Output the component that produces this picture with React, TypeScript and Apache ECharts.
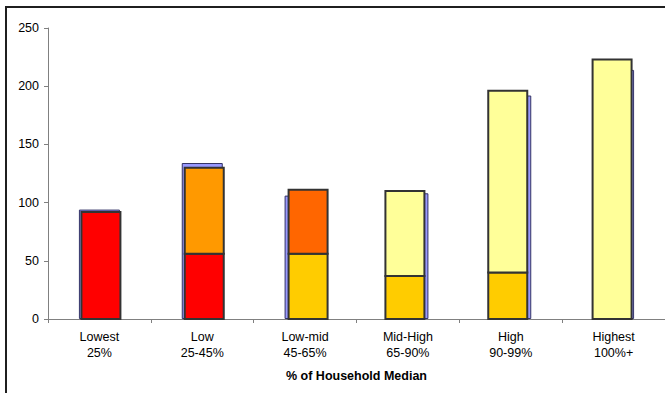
import React, { useEffect, useRef } from 'react';
import * as echarts from 'echarts';

// Income bands along the horizontal axis
const categories = [
  'Lowest\n25%',
  'Low\n25-45%',
  'Low-mid\n45-65%',
  'Mid-High\n65-90%',
  'High\n90-99%',
  'Highest\n100%+',
];
const yTicks = [0, 50, 100, 150, 200, 250];

// Back (blue) bars: overall totals
const totalValues = [94, 134, 106, 108, 192, 214];
// Front stacked bars: lower and upper segments
const lowerValues = [92, 56, 56, 37, 40, 0];
const upperValues = [0, 74, 55, 73, 156, 223];

// Styling
const lowerColors = ['#FF0000', '#FF0000', '#FFCC00', '#FFCC00', '#FFCC00', '#FFCC00'];
const upperColors = ['#FF9900', '#FF9900', '#FF6600', '#FFFF99', '#FFFF99', '#FFFF99'];
const frontShift = [1.5, 2, 3, -3, -3, -1.5];
const FONT = '"Liberation Sans", Arial, sans-serif';

const segmentRenderer = (colors: string[]) => (_params: any, api: any) => {
  const i = api.value(0);
  const lo = api.value(1);
  const hi = api.value(2);
  const base = api.coord([i, lo]);
  const top = api.coord([i, hi]);
  const w = 39;
  return {
    type: 'rect',
    shape: {
      x: base[0] - w / 2 + frontShift[i],
      y: top[1],
      width: w,
      height: base[1] - top[1],
    },
    style: { fill: colors[i], stroke: '#333333', lineWidth: 2 },
  };
};

export default function App() {
  const ref = useRef<HTMLDivElement>(null);

  useEffect(() => {
    if (!ref.current) return;
    const chart = echarts.init(ref.current, undefined, { renderer: 'svg' });

    const lowerData = lowerValues
      .map((v, i) => [i, 0, v])
      .filter((d) => d[2] > d[1]);
    const upperData = upperValues
      .map((v, i) => [i, lowerValues[i], lowerValues[i] + v])
      .filter((d) => d[2] > d[1]);

    chart.setOption({
      animation: false,
      backgroundColor: '#ffffff',
      textStyle: { fontFamily: FONT },
      grid: { left: 48, right: -1, top: 28, bottom: 74, containLabel: false },
      graphic: [
        {
          // chart-area frame: only its top and left edges fall inside the view
          type: 'polyline',
          shape: { points: [[6, 400], [6, 7], [670, 7]] },
          style: { fill: 'none', stroke: '#1f1f1f', lineWidth: 2 },
          z: 100,
          silent: true,
        },
      ],
      xAxis: {
        type: 'category',
        data: categories,
        boundaryGap: true,
        name: '% of Household Median',
        nameLocation: 'middle',
        nameGap: 50,
        nameTextStyle: {
          fontFamily: FONT,
          fontSize: 12.5,
          fontWeight: 'bold',
          color: '#000',
        },
        axisLine: { show: true, lineStyle: { color: '#808080', width: 1 } },
        axisTick: { show: true, length: 4, lineStyle: { color: '#808080' } },
        axisLabel: {
          interval: 0,
          color: '#000',
          fontFamily: FONT,
          fontSize: 12.5,
          lineHeight: 16,
          margin: 10,
        },
        splitLine: { show: false },
      },
      yAxis: {
        type: 'value',
        min: yTicks[0],
        max: yTicks[yTicks.length - 1],
        interval: yTicks[1] - yTicks[0],
        axisLine: { show: true, lineStyle: { color: '#808080', width: 1 } },
        axisTick: { show: true, length: 4, lineStyle: { color: '#808080' } },
        axisLabel: { color: '#000', fontFamily: FONT, fontSize: 12.5, margin: 9 },
        splitLine: { show: false },
      },
      series: [
        {
          name: 'Total',
          type: 'bar',
          data: totalValues,
          barWidth: 41,
          itemStyle: { color: '#9999FF', borderColor: '#333366', borderWidth: 1 },
          z: 1,
        },
        {
          name: 'Lower',
          type: 'custom',
          renderItem: segmentRenderer(lowerColors),
          data: lowerData,
          encode: { x: 0, y: [1, 2] },
          z: 3,
        },
        {
          name: 'Upper',
          type: 'custom',
          renderItem: segmentRenderer(upperColors),
          data: upperData,
          encode: { x: 0, y: [1, 2] },
          z: 4,
        },
      ],
    });

    return () => chart.dispose();
  }, []);

  return (
    <div
      ref={ref}
      style={{ position: 'fixed', left: 0, top: 0, width: 665, height: 393 }}
    />
  );
}
